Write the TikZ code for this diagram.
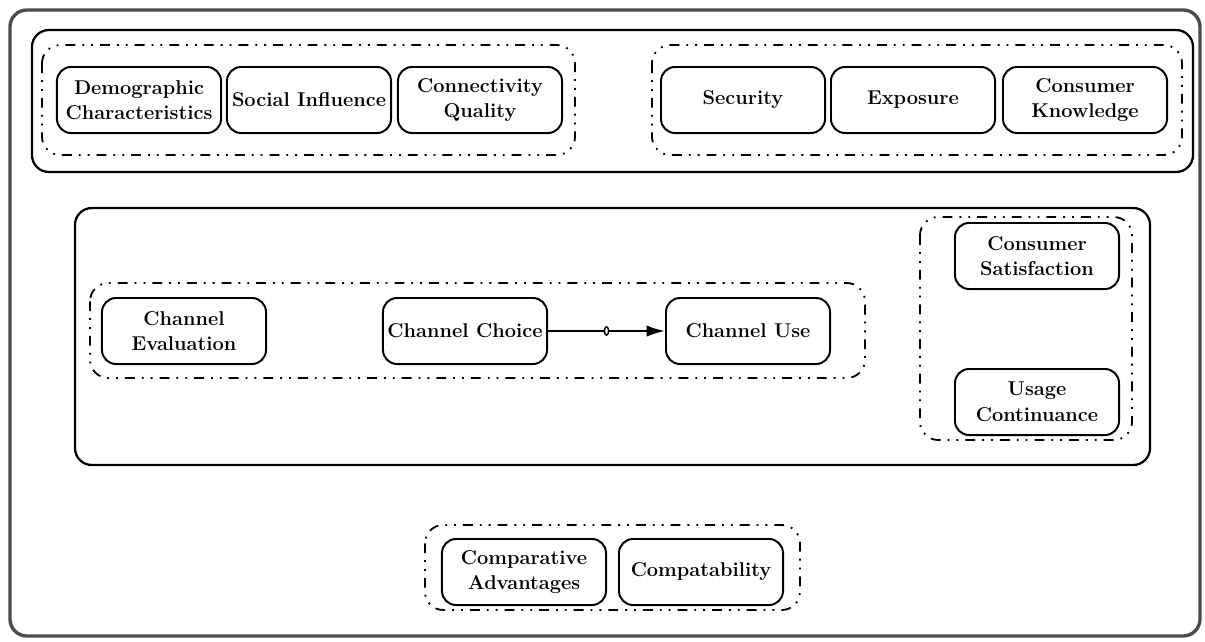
\documentclass[tikz,border=0pt]{standalone}
\usetikzlibrary{arrows.meta,shapes.geometric}
\tikzset{
  factor/.style={draw, line width=1.4pt, rounded corners=10pt, align=center,
                 minimum width=4.1cm, minimum height=1.65cm, inner sep=2pt,
                 font=\fontsize{14.2}{18.2}\selectfont\bfseries},
  band/.style={draw, line width=1.6pt, rounded corners=12pt},
  group/.style={draw, line width=1.3pt, rounded corners=13pt,
                dash pattern=on 7pt off 5pt on 1.3pt off 5pt on 1.3pt off 5pt},
  flow/.style={line width=1.4pt, -{Latex[length=13pt,width=8pt]}}
}
\begin{document}
\begin{tikzpicture}[x=0.025cm, y=-0.025cm]
      \useasboundingbox (0, 0) rectangle (1205, 641);
      % frames
      \draw [line width=2.4pt, black!70, rounded corners=12pt] (10, 10) rectangle (1200, 636);
      \draw [band] (32, 30) rectangle (1193, 172)
                   (75, 208) rectangle (1150, 465);
      \draw [group] (42, 45) rectangle (575, 155)
                    (652, 45) rectangle (1182, 155)
                    (90, 283) rectangle (865, 378)
                    (920, 217) rectangle (1132, 440)
                    (425, 525) rectangle (800, 610);
      % top row
      \node (demo) [factor] at (139, 100) {Demographic\\Characteristics};
      \node (social) [factor] at (309, 100) {Social Influence};
      \node (conn) [factor] at (480, 100) {Connectivity\\Quality};
      \node (secur) [factor] at (743, 100) {Security};
      \node (expo) [factor] at (913, 100) {Exposure};
      \node (know) [factor] at (1085, 100) {Consumer\\Knowledge};
      % channel row
      \node (eval) [factor] at (184, 331) {Channel\\Evaluation};
      \node (choice) [factor] at (465, 331) {Channel Choice};
      \node (use) [factor] at (748, 331) {Channel Use};
      \node (satis) [factor] at (1037, 256) {Consumer\\Satisfaction};
      \node (cont) [factor] at (1037, 402) {Usage\\Continuance};
      % bottom
      \node (adv) [factor] at (524, 572) {Comparative\\Advantages};
      \node (compat) [factor] at (701, 572) {Compatability};
      \draw [flow] (choice) -- (use)
            node [midway, draw, ellipse, line width=1pt, fill=white, inner sep=0pt,
                  minimum width=3pt, minimum height=6pt] (mark) {};
\end{tikzpicture}
\end{document}
